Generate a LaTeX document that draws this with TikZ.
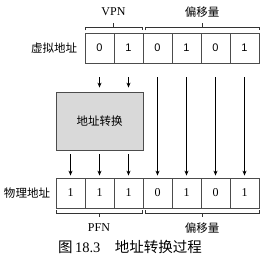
\documentclass[tikz,border=0pt]{standalone}
\usepackage{fontspec}
\setmainfont{Liberation Serif}
\newfontfamily\cjk{Noto Sans CJK SC}
\newfontfamily\sansdig{Liberation Sans}
\usetikzlibrary{arrows.meta,calc}
\begin{document}
\begin{tikzpicture}[x=1pt,y=-1pt,
  cellv/.style={draw=black!70,line width=0.8pt,minimum width=29pt,minimum height=30pt,inner sep=0pt,font=\sansdig\fontsize{11}{11}\selectfont},
  cellp/.style={draw=black!70,line width=0.8pt,minimum width=29pt,minimum height=30pt,inner sep=0pt,font=\fontsize{12}{12}\selectfont},
  arr/.style={-{Stealth[length=5pt,width=4pt]},line width=0.8pt},
  brk/.style={line width=0.6pt,black!80},
  lab/.style={font=\cjk\fontsize{11.5}{12}\selectfont,inner sep=0pt},
  latinlab/.style={font=\fontsize{12}{12}\selectfont,inner sep=0pt}]
\useasboundingbox (0,0) rectangle (275,261);
% virtual row
\foreach \b [count=\i from 0] in {0,1,0,1,0,1}
  \node[cellv] (v\i) at (99.5+29*\i,48) {\b};
% physical row
\foreach \b [count=\i from 0] in {1,1,1,0,1,0,1}
  \node[cellp] (p\i) at (70.5+29*\i,193) {\b};
% translation box
\node[draw=black!70,fill=black!15,line width=0.8pt,minimum width=87pt,minimum height=58pt,inner sep=0pt,font=\cjk\fontsize{11.5}{12}\selectfont] (tr) at (99.5,121) {地址转换};
% labels
\node[lab] (vl) at (54,48) {虚拟地址};
\node[lab] (pl) at (27,193) {物理地址};
\node[latinlab] (vpn) at (113.5,12) {VPN};
\node[lab] (off1) at (202,12) {偏移量};
\node[latinlab] (pfn) at (99,228) {PFN};
\node[lab] (off2) at (202,228) {偏移量};
\node[font=\fontsize{14.5}{15}\selectfont,inner sep=0pt] (cap) at (130,247) {{\cjk 图}\,18.3\quad{\cjk 地址转换过程}};
% top brackets
\draw[brk] (85,30.5) -- (85,27) -- (142,27) -- (142,30.5);
\draw[brk] (113.5,27) -- (113.5,23);
\draw[brk] (145,30.5) -- (145,27) -- (259,27) -- (259,30.5);
\draw[brk] (202,27) -- (202,23);
% bottom brackets
\draw[brk] (56,210) -- (56,213.5) -- (142,213.5) -- (142,210);
\draw[brk] (99,213.5) -- (99,217);
\draw[brk] (145,210) -- (145,213.5) -- (259,213.5) -- (259,210);
\draw[brk] (202,213.5) -- (202,217);
% arrows into translation
\foreach \i in {0,1}
  \draw[arr] ([yshift=-14pt]v\i.south) -- ([yshift=4pt]v\i.south |- tr.north);
% arrows out of translation
\foreach \i in {0,1,2}
  \draw[arr] ([yshift=-4pt]p\i.north |- tr.south) -- ([yshift=2pt]p\i.north);
% offset arrows
\foreach \i/\j in {2/3,3/4,4/5,5/6}
  \draw[arr] ([yshift=-14pt]v\i.south) -- ([yshift=2pt]p\j.north);
\end{tikzpicture}
\end{document}
